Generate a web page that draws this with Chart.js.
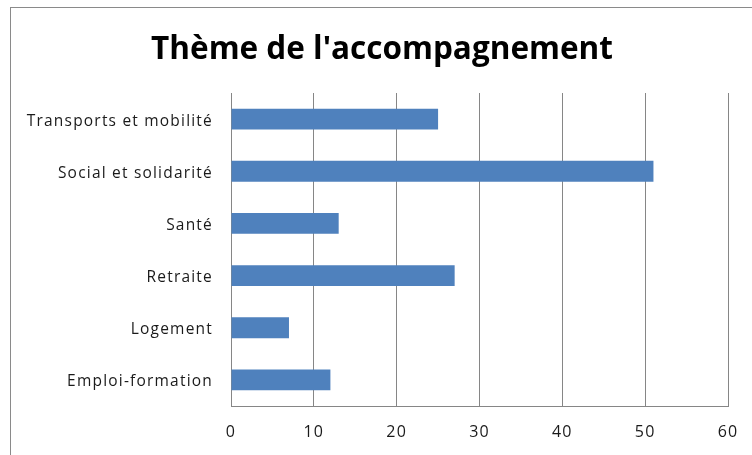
<!DOCTYPE html>
<html>
<head>
<meta charset="utf-8">
<script src="https://cdn.jsdelivr.net/npm/chart.js@4"></script>
<style>
  html, body { margin: 0; padding: 0; background: #fff; overflow: hidden; }
  #wrap { position: relative; width: 752px; height: 455px; }
  #c { position: absolute; left: 0; top: 0; }
  #frame { position: absolute; left: 10px; top: 7px; width: 800px; height: 500px;
           border: 1px solid #8a8a8a; box-sizing: border-box; pointer-events: none; }
  #title { position: absolute; left: 82px; width: 600px; top: 27px; margin: 0;
           text-align: center; white-space: nowrap;
           font-family: 'Open Sans', sans-serif; font-weight: bold; font-size: 31.5px;
           line-height: 40px; color: #000; }
</style>
</head>
<body>
<div id="wrap">
  <canvas id="c" width="752" height="455"></canvas>
  <div id="frame"></div>
  <h1 id="title"></h1>
</div>
<script>
const titleText = "Thème de l'accompagnement";
const categories = ["Transports et mobilité", "Social et solidarité", "Santé", "Retraite", "Logement", "Emploi-formation"];
const values = [25, 51, 13, 27, 7, 12];
const xMin = 0, xMax = 60, xStep = 10;

document.getElementById('title').textContent = titleText;

const gridColor = '#868686';

// slightly wider letter spacing for the axis labels, as in the reference
(function () {
  const proto = CanvasRenderingContext2D.prototype;
  const orig = proto.fillText;
  proto.fillText = function (t, x, y, m) {
    const prev = this.letterSpacing;
    this.letterSpacing = '1.2px';
    if (m === undefined) orig.call(this, t, x, y); else orig.call(this, t, x, y, m);
    this.letterSpacing = prev;
  };
})();

new Chart(document.getElementById('c'), {
  type: 'bar',
  data: {
    labels: categories,
    datasets: [{
      data: values,
      backgroundColor: '#4F81BD',
      borderWidth: 0,
      barPercentage: 0.4,
      categoryPercentage: 1.0
    }]
  },
  options: {
    indexAxis: 'y',
    responsive: false,
    devicePixelRatio: 1,
    animation: false,
    layout: { padding: { left: 0, right: 24, top: 93, bottom: 0 } },
    plugins: {
      legend: { display: false },
      tooltip: { enabled: false },
      title: { display: false }
    },
    scales: {
      x: {
        min: xMin, max: xMax,
        ticks: { stepSize: xStep, color: '#1a1a1a', font: { family: 'Open Sans', size: 16 }, padding: 17 },
        grid: { color: gridColor, lineWidth: 1, drawTicks: false },
        border: { display: true, color: gridColor, width: 1 },
        afterFit: (s) => { s.height = 49; s.paddingLeft = 0; s.paddingRight = 0; }
      },
      y: {
        ticks: { color: '#1a1a1a', font: { family: 'Open Sans', size: 15.5 }, padding: 18, labelOffset: 2 },
        grid: { display: false, drawTicks: false },
        border: { display: true, color: gridColor, width: 1 },
        afterFit: (s) => { s.width = 231; s.paddingTop = 0; s.paddingBottom = 0; }
      }
    }
  }
});
</script>
</body>
</html>
